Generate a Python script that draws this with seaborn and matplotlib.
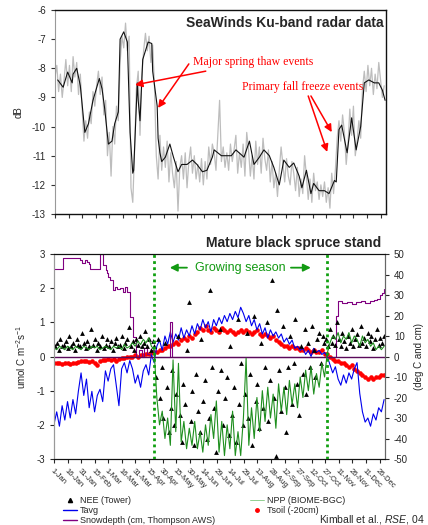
import numpy as np
import pandas as pd
import seaborn as sns
import matplotlib.pyplot as plt
from matplotlib.lines import Line2D

# ---------------- SeaWinds Ku-band backscatter (dB) ----------------
sw_smooth_day = [4, 10, 15, 20, 21, 25, 29, 34, 38, 43,
                 50, 53, 56, 60, 64, 67, 71, 73, 77, 81,
                 84, 87, 88, 92, 93, 95, 98, 104, 108, 109,
                 114, 115, 117, 119, 123, 128, 132, 137, 141, 147,
                 153, 158, 164, 169, 175, 177, 185, 196, 201, 210,
                 216, 221, 227, 232, 238, 243, 249, 254, 260, 265,
                 271, 274, 279, 284, 287, 293, 299, 304, 310, 312,
                 315, 318, 324, 329, 334, 339, 343, 348, 354, 359,
                 363, 366]
sw_smooth_db = [-8.4, -8.65, -8.13, -8.5, -8.2, -8.0, -8.6, -10.2, -9.9, -9.1,
                -8.35, -8.7, -9.4, -10.6, -10.5, -9.9, -9.5, -7.0, -6.75, -7.1,
                -10.2, -11.6, -11.5, -8.5, -9.1, -9.8, -7.7, -7.1, -7.15, -8.1,
                -9.3, -10.4, -10.9, -11.2, -11.05, -10.6, -11.05, -11.55, -11.3, -11.3,
                -11.15, -11.3, -11.55, -11.5, -11.05, -10.8, -11.0, -11.0, -10.8, -11.05,
                -10.5, -11.3, -11.05, -10.8, -11.0, -11.4, -12.0, -11.15, -11.4, -11.25,
                -11.7, -12.1, -11.5, -12.3, -11.95, -12.2, -12.2, -12.3, -11.85, -11.9,
                -10.1, -9.95, -10.9, -9.7, -10.8, -10.0, -8.5, -8.4, -8.5, -8.5,
                -8.75, -9.1]
# raw (unsmoothed) backscatter, every other day from 1 Jan
sw_raw_db = [-8.3, -7.9, -8.8, -8.2, -9.0, -8.4, -7.7, -8.6, -7.9, -8.8,
             -7.6, -8.3, -7.8, -8.9, -8.2, -9.4, -10.5, -9.8, -10.4, -9.5,
             -9.9, -8.8, -9.3, -8.6, -8.1, -8.9, -8.3, -9.6, -9.1, -11.0,
             -10.2, -11.7, -10.0, -10.6, -9.3, -9.8, -7.8, -6.9, -7.3, -6.45,
             -7.4, -6.9, -12.1, -12.6, -10.8, -8.7, -8.1, -10.3, -8.3, -7.4,
             -6.8, -7.4, -6.9, -7.8, -7.2, -8.6, -11.0, -11.8, -10.3, -11.5,
             -10.7, -11.4, -10.5, -11.9, -10.9, -11.6, -12.1, -11.2, -12.9, -11.4,
             -11.0, -11.8, -10.9, -12.1, -11.2, -10.7, -11.6, -11.0, -11.8, -11.3,
             -11.9, -11.1, -12.0, -11.2, -11.8, -10.7, -11.3, -10.6, -10.9, -11.5,
             -10.3, -9.1, -11.2, -10.7, -11.4, -10.9, -11.5, -10.6, -11.2, -10.8,
             -10.3, -11.6, -10.9, -11.4, -10.6, -11.7, -10.2, -10.8, -11.7, -11.0,
             -11.8, -10.5, -11.3, -10.7, -11.6, -10.4, -11.1, -11.5, -10.8, -11.9,
             -11.2, -12.1, -11.6, -12.4, -11.5, -10.7, -11.3, -11.9, -11.1, -11.7,
             -12.0, -11.2, -11.6, -12.2, -11.4, -12.4, -11.8, -12.3, -11.0, -11.7,
             -12.5, -11.8, -12.6, -11.6, -12.2, -11.9, -12.5, -12.0, -12.4, -11.9,
             -12.6, -12.1, -12.8, -11.6, -12.3, -11.5, -10.4, -9.8, -10.5, -9.6,
             -10.2, -11.3, -10.6, -9.4, -10.3, -9.3, -11.0, -10.5, -9.8, -10.4,
             -8.7, -8.1, -8.8, -7.9, -8.6, -8.0, -8.9, -8.2, -8.7, -7.8,
             -8.4, -9.0, -8.6]

# ---------------- Tower site (mature black spruce) ----------------
tick_day = list(range(1, 362, 15))
tick_labels = ["1-Jan", "16-Jan", "31-Jan", "15-Feb", "1-Mar", "16-Mar", "31-Mar",
               "15-Apr", "30-Apr", "15-May", "30-May", "14-Jun", "29-Jun", "14-Jul",
               "29-Jul", "13-Aug", "28-Aug", "12-Sep", "27-Sep", "12-Oct", "27-Oct",
               "11-Nov", "26-Nov", "11-Dec", "26-Dec"]

# every third day (deg C)
tavg = [-33, -27, -34, -24, -31, -22, -30, -21, -28, -17,
        -8, -19, -11, -25, -17, -27, -19, -16, -22, -7,
        -12, -6, -4, -14, -24, -6, -3, -8, -2, -6,
        -13, -9, -15, -7, -4, -9, 1, -3, 5, 8,
        3, 10, 6, 12, 7, 11, 8, 14, 9, 13,
        10, 15, 11, 16, 13, 18, 14, 17, 12, 18,
        15, 19, 16, 20, 17, 21, 18, 22, 19, 24,
        21, 17, 20, 15, 18, 13, 16, 11, 14, 9,
        13, 10, 12, 9, 11, 7, 9, 6, 8, 4,
        5, 3, 4, 1, 3, 0, 4, 2, 3, 1,
        2, 0, -4, -8, -5, -11, -14, -9, -13, -8,
        -11, -6, -3, -18, -27, -32, -30, -34, -28, -31,
        -25, -27, -21]
tsoil = [-3, -3, -3, -3.5, -3, -3, -3.5, -3, -3, -2.5,
         -2, -2, -2, -2.5, -2, -3, -4, -2, -1.5, -1.5,
         -1, -1.5, -1, -2, -1, -0.5, -0.5, 0, 0, 0,
         0.5, 0, 0.5, 0.5, 1, 1, 1.5, 2, 2, 3,
         3, 4, 5, 5, 6, 7, 6, 8, 9, 8,
         10, 9, 11, 12, 14, 13, 15, 13, 12, 14,
         13, 12, 14, 13, 12, 13, 12, 11, 12, 13,
         12, 13, 12, 11, 12, 13, 11, 10, 11, 10,
         9, 10, 8, 7, 6, 5, 5, 4, 5, 4,
         4, 3, 3, 4, 3, 2, 3, 2, 2, 3,
         1, 1, 0, -1, -2, -2, -3, -3, -4, -5,
         -4, -6, -7, -8, -9, -10, -11, -10, -11, -10,
         -10, -9, -9]
# every third day (umol C m-2 s-1)
npp = [0.25, 0.2, 0.3, 0.25, 0.2, 0.3, 0.25, 0.2, 0.3, 0.25,
       0.2, 0.3, 0.25, 0.2, 0.3, 0.25, 0.3, 0.2, 0.25, 0.3,
       0.25, 0.2, 0.3, 0.25, 0.3, 0.2, 0.35, 0.25, 0.3, 0.4,
       0.3, 0.45, 0.35, 0.5, 0.4, 0.55, 0.3, 0.2, -1.2, -2.0,
       -1.6, -2.4, -1.8, -2.6, -0.1, -2.2, -0.2, -2.5, -1.9, -2.7,
       -2.1, -2.6, -1.9, -2.7, -2.2, -2.8, -2.0, -2.6, -1.7, -2.4,
       -1.3, -2.8, -1.9, -2.9, -2.0, -2.7, -1.6, -2.9, -2.2, -2.9,
       -1.8, -0.05, -2.6, -1.5, -2.4, -1.2, -2.2, -1.0, -1.9, -0.9,
       -1.8, -1.1, -2.1, -0.8, -1.6, -0.9, -1.7, -0.7, -1.4, -0.8,
       -1.5, -0.6, -1.2, -0.4, -1.0, -0.3, -1.1, -0.5, -0.9, -0.2,
       -0.6, 0.1, 0.4, 0.6, 0.5, 0.7, 0.4, 0.6, 0.5, 0.7,
       0.4, 0.6, 0.5, 0.3, 0.6, 0.4, 0.5, 0.3, 0.4, 0.2,
       0.3, 0.2, 0.3]
# every second day (umol C m-2 s-1)
nee = [0.3, 0.4, 0.2, 0.5, 0.3, 0.35, 0.45, 0.25, 0.6, 0.3,
       0.4, 0.2, 0.5, 0.35, 0.3, 0.7, 0.4, 0.25, 0.45, 0.3,
       0.8, 0.35, 0.5, 0.2, 0.4, 0.3, 0.6, 0.25, 0.35, 0.5,
       0.3, 0.45, 0.2, 0.4, 0.55, 0.3, 0.35, 0.6, 0.25, 0.4,
       0.5, 0.85, 0.3, 0.45, 0.2, 0.5, 0.35, 0.6, 0.3, 0.4,
       0.75, 0.3, 0.5, 0.2, 0.45,
       0.3, -0.6, 0.5, -1.2, -0.3, -1.8, 0.4, -0.9, -2.2, -1.5,
       -0.4, -2.0, -1.1, 0.6, -1.7, -2.5, -0.8, -1.4, 0.2, 1.6,
       -1.9, -1.0, -2.6, -0.5, -1.6, -2.2, 0.5, -1.3, -0.7, -2.4,
       -1.8, 1.95, -0.3, -1.5, -2.8, -1.0, 0.8, -0.4, -2.0, -1.2,
       -0.6, -2.3, 0.3, -1.7, -0.9, -2.5, 1.1, -1.4, -0.2, -2.0,
       -1.1, 0.7, -1.8, -0.5, -2.6, 1.2, -1.3, -0.8, -2.1, 0.4,
       -1.5, -0.3, 1.0, -1.9, -0.7, 2.24, -1.2, -2.9, 1.36, -0.4,
       -1.6, 0.9, -0.9, -2.2, -0.3, 0.6, -1.4, -0.2, 1.1, -0.8,
       -1.7, 0.3, -0.5, 0.8, -1.1, 0.4, -0.3, 0.9, 0.2, -0.6,
       0.5, 0.7, -0.2, 0.6, 0.4,
       0.5, 0.3, 0.8, 0.4, 0.6, 0.35, 1.0, 0.5, 0.3, 0.7,
       0.45, 0.25, 0.6, 0.4, 0.8, 0.3, 0.5, 0.65, 0.35, 0.9,
       0.4, 0.55, 0.3, 0.7, 0.45, 0.6, 0.25, 0.5, 0.8, 0.35,
       0.55, 0.4, 0.6]
snow_day = [1, 10, 11, 24, 30, 32, 35, 38, 40, 41,
            50, 52, 54, 55, 58, 60, 61, 63, 66, 68,
            71, 74, 77, 80, 82, 85, 88, 92, 95, 98,
            101, 104, 108, 112, 128, 129, 131, 312, 313, 315,
            320, 325, 330, 335, 340, 345, 350, 355, 358, 361,
            364, 366]
snow_cm = [42.7, 42.7, 48, 48, 47, 45.5, 47, 46, 45, 42.5,
           42.5, 50, 50, 44.7, 42, 40.8, 38.8, 37.4, 32.5, 34,
           33, 33.5, 31.6, 34, 31.5, 19.4, 9.7, 0, 3, 0,
           4, 1, 3, 0, 0, 16.7, 0, 0, 20, 27,
           26, 26.5, 25.5, 26.5, 27, 26, 27, 27.5, 28, 30,
           31, 33]
season_start, season_end = 112, 303

sns.set_style("ticks")
plt.rcParams["font.family"] = ["Liberation Sans", "DejaVu Sans"]
plt.rcParams["axes.unicode_minus"] = False
plt.rcParams["mathtext.fontset"] = "custom"
plt.rcParams["mathtext.rm"] = "Liberation Sans"
plt.rcParams["mathtext.it"] = "Liberation Sans:italic"

fig = plt.figure(figsize=(4.28, 5.25), dpi=100)
W, H = 428, 525

# ---------- top panel: radar ----------
ax1 = fig.add_axes([55 / W, 1 - 214 / H, 331 / W, 204 / H])
raw = pd.DataFrame({"day": np.linspace(1, 365, len(sw_raw_db)), "db": sw_raw_db})
smooth = pd.DataFrame({"day": sw_smooth_day, "db": sw_smooth_db})
sns.lineplot(data=raw, x="day", y="db", ax=ax1, color="#bdbdbd", lw=0.9)
sns.lineplot(data=smooth, x="day", y="db", ax=ax1, color="#111111", lw=0.8)
ax1.set_xlim(1, 367)
ax1.set_ylim(-13, -6)
ax1.set_yticks(range(-13, -5))
ax1.set_xticks(tick_day)
ax1.set_xticklabels([])
ax1.set_xlabel("")
ax1.set_ylabel("dB", fontsize=7, labelpad=6)
ax1.tick_params(axis="both", labelsize=7, length=3, width=0.8, color="#333333")
ax1.spines["left"].set_color("#999999")
for s in ["top", "right", "bottom"]:
    ax1.spines[s].set_color("#111111")
    ax1.spines[s].set_linewidth(1.0)
ax1.text(0.994, 0.936, "SeaWinds Ku-band radar data", transform=ax1.transAxes,
         ha="right", va="center", fontsize=10, fontweight="bold")

red_kw = dict(color="red", fontsize=8.5, family=["Liberation Serif", "DejaVu Serif"])
arrow = dict(arrowstyle="-|>", color="red", lw=1.1, mutation_scale=11, shrinkA=0, shrinkB=0)
ax1.annotate("Major spring thaw events", xy=(89.5, -8.57), xytext=(154, -7.78),
             va="center", ha="left", arrowprops=arrow, **red_kw)
ax1.annotate("", xy=(115, -9.36), xytext=(149, -7.85), arrowprops=arrow)
ax1.annotate("Primary fall freeze events", xy=(307, -10.19), xytext=(208, -8.64),
             va="center", ha="left", **red_kw)
ax1.annotate("", xy=(307, -10.19), xytext=(284, -8.95), arrowprops=arrow)
ax1.annotate("", xy=(302, -10.87), xytext=(281, -8.95), arrowprops=arrow)

# ---------- bottom panel: tower data ----------
ax2 = fig.add_axes([54 / W, 1 - 459 / H, 331 / W, 205 / H])
ax3 = ax2.twinx()
d3 = np.linspace(1, 366, len(tavg))
d2 = np.linspace(2, 366, len(nee))

sns.lineplot(x=d3, y=tavg, ax=ax3, color="#0000ee", lw=0.8)
sns.lineplot(x=snow_day, y=snow_cm, ax=ax3, color="#800080", lw=0.8, drawstyle="steps-post")
sns.scatterplot(x=d3, y=tsoil, ax=ax3, color="#ff0000", s=11, marker="o", linewidth=0)
ax3.set_ylim(-50, 50)
ax3.set_yticks(range(-50, 51, 10))
ax3.set_ylabel("(deg C and cm)", fontsize=7, labelpad=4)
ax3.tick_params(axis="y", labelsize=7, length=3, width=0.8)

ax2.axhline(0, color="#5a0a5a", lw=1.0, zorder=1)
sns.lineplot(x=d3, y=npp, ax=ax2, color="#1f8f1f", lw=0.8)
sns.scatterplot(x=d2, y=nee, ax=ax2, color="black", marker="^", s=12, linewidth=0)
for d in (season_start, season_end):
    ax2.axvline(d, color="#10a010", lw=2.0, ls=(0, (1, 1.2)), zorder=3)
ax2.set_zorder(ax3.get_zorder() + 1)
ax2.patch.set_visible(False)

ax2.set_xlim(1, 367)
ax2.set_ylim(-3, 3)
ax2.set_yticks(range(-3, 4))
ax2.set_xticks(tick_day)
ax2.set_xticklabels(tick_labels, rotation=-45, ha="left", va="top",
                    rotation_mode="anchor", fontsize=5.5)
ax2.set_ylabel(r"umol C m$^{-2}$s$^{-1}$", fontsize=7, labelpad=6)
ax2.tick_params(axis="both", labelsize=7, length=3, width=0.8)
ax2.tick_params(axis="x", labelsize=5.5, pad=3)
for a in (ax2, ax3):
    a.spines["left"].set_color("#999999")
    a.spines["right"].set_color("#666666")
    a.spines["top"].set_color("#111111")
    a.spines["bottom"].set_color("#111111")

ax2.text(0.988, 1.055, "Mature black spruce stand", transform=ax2.transAxes,
         ha="right", va="center", fontsize=10, fontweight="bold")
green_arrow = dict(arrowstyle="-|>", color="#129a12", lw=1.3, mutation_scale=11, shrinkA=0, shrinkB=0)
ax2.annotate("", xy=(129, 2.6), xytext=(148, 2.6), arrowprops=green_arrow)
ax2.annotate("", xy=(285, 2.6), xytext=(263, 2.6), arrowprops=green_arrow)
ax2.text(207, 2.6, "Growing season", color="#129a12", fontsize=9, ha="center", va="center")

# ---------- legend ----------
left_handles = [
    Line2D([], [], color="black", marker="^", ls="none", markersize=3),
    Line2D([], [], color="#0000ee", lw=1.0),
    Line2D([], [], color="#800080", lw=1.0),
]
right_handles = [
    Line2D([], [], color="#7fc77f", lw=0.6),
    Line2D([], [], color="red", marker="o", ls="none", markersize=2.5),
]
leg_kw = dict(frameon=False, fontsize=6.5, handlelength=1.6, handletextpad=0.3,
              labelspacing=0.12, borderpad=0, borderaxespad=0, loc="upper left")
fig.legend(left_handles, ["NEE (Tower)", "Tavg", "Snowdepth (cm, Thompson AWS)"],
           bbox_to_anchor=(63 / W, 1 - 496 / H), **leg_kw)
fig.legend(right_handles, ["NPP (BIOME-BGC)", "Tsoil (-20cm)"],
           bbox_to_anchor=(250 / W, 1 - 496 / H), **leg_kw)
fig.text(425 / W, 1 - 520 / H, r"Kimball et al., $\mathit{RSE}$, 04", ha="right",
         va="center", fontsize=7.5)

fig.savefig("out.png", dpi=100)
